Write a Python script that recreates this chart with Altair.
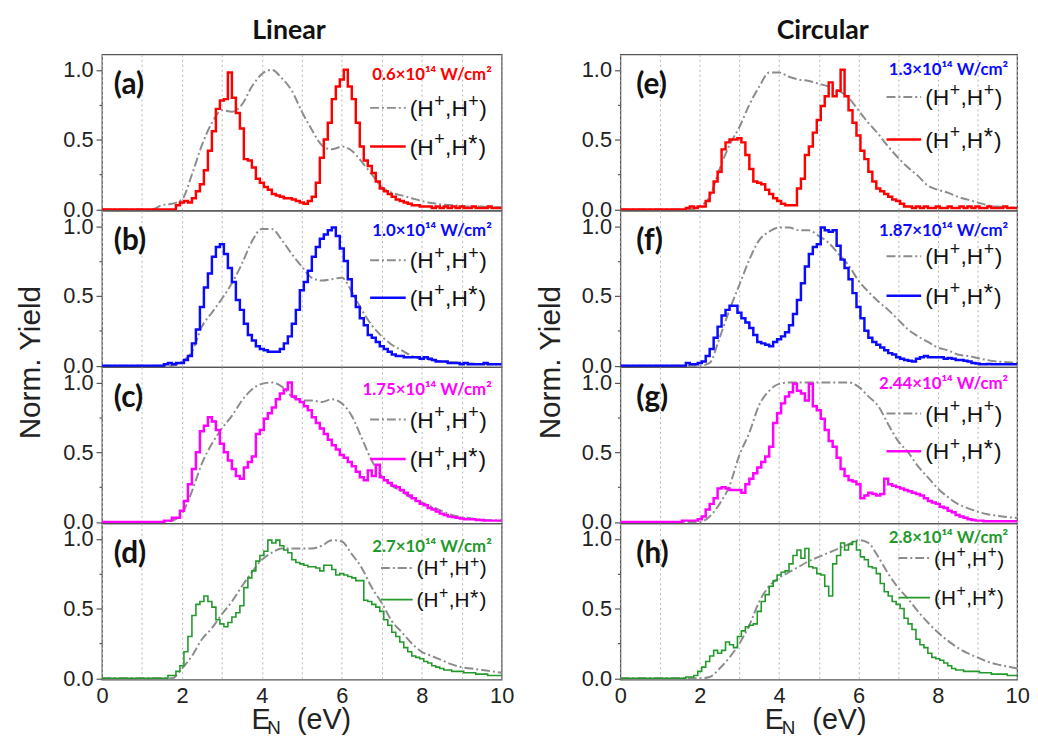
import altair as alt
import pandas as pd

# ---------------- data ----------------
STEP_E = [round(0.1 * i, 1) for i in range(101)]      # histogram bins, eV
SMOOTH_E = [round(0.25 * i, 2) for i in range(41)]   # (H+,H+) sampling, eV

# (H+,H*) step spectra, one row = 1 eV
STEP_A = [0, 0, 0, 0, 0, 0, 0, 0, 0, 0,
          0, 0, 0, 0, 0, 0, 0, 0, 0, 0.03,
          0.05, 0.06, 0.05, 0.08, 0.13, 0.18, 0.28, 0.42, 0.56, 0.72,
          0.78, 0.79, 0.98, 0.80, 0.69, 0.58, 0.36, 0.35, 0.30, 0.22,
          0.19, 0.16, 0.14, 0.11, 0.10, 0.09, 0.08, 0.08, 0.07, 0.06,
          0.05, 0.04, 0.06, 0.09, 0.19, 0.37, 0.50, 0.62, 0.79, 0.88,
          0.93, 1.00, 0.88, 0.79, 0.62, 0.45, 0.35, 0.31, 0.26, 0.20,
          0.15, 0.13, 0.11, 0.09, 0.07, 0.06, 0.05, 0.04, 0.03, 0.03,
          0.02, 0.02, 0.02, 0.01, 0.02, 0.01, 0.02, 0.01, 0.02, 0.01,
          0.02, 0.01, 0.01, 0.02, 0.01, 0.01, 0.01, 0.02, 0.01, 0.01,
          0.01]
STEP_B = [0, 0, 0, 0, 0, 0, 0, 0, 0, 0,
          0, 0, 0, 0, 0, 0, 0.01, 0.02, 0.01, 0.02,
          0.02, 0.04, 0.07, 0.16, 0.26, 0.42, 0.56, 0.66, 0.78, 0.85,
          0.87, 0.80, 0.70, 0.60, 0.47, 0.40, 0.30, 0.22, 0.18, 0.14,
          0.12, 0.11, 0.10, 0.10, 0.10, 0.12, 0.16, 0.21, 0.30, 0.40,
          0.54, 0.60, 0.68, 0.78, 0.85, 0.91, 0.94, 0.97, 0.99, 0.93,
          0.84, 0.75, 0.62, 0.50, 0.42, 0.34, 0.29, 0.22, 0.20, 0.17,
          0.14, 0.12, 0.10, 0.08, 0.07, 0.07, 0.06, 0.06, 0.06, 0.06,
          0.05, 0.06, 0.05, 0.04, 0.03, 0.03, 0.03, 0.02, 0.02, 0.02,
          0.01, 0.02, 0.01, 0.01, 0.01, 0.01, 0.02, 0.01, 0.01, 0.01,
          0.01]
STEP_C = [0, 0, 0, 0, 0, 0, 0, 0, 0, 0,
          0, 0, 0, 0, 0, 0, 0.01, 0.01, 0.03, 0.03,
          0.08, 0.15, 0.27, 0.38, 0.50, 0.65, 0.69, 0.75, 0.72, 0.66,
          0.56, 0.50, 0.44, 0.38, 0.33, 0.31, 0.39, 0.43, 0.47, 0.63,
          0.66, 0.74, 0.78, 0.82, 0.88, 0.92, 0.95, 1.00, 0.90, 0.88,
          0.86, 0.83, 0.80, 0.75, 0.71, 0.67, 0.63, 0.59, 0.55, 0.52,
          0.48, 0.46, 0.43, 0.40, 0.36, 0.32, 0.30, 0.37, 0.33, 0.41,
          0.32, 0.30, 0.28, 0.26, 0.25, 0.23, 0.21, 0.19, 0.17, 0.15,
          0.13, 0.12, 0.10, 0.09, 0.075, 0.06, 0.05, 0.04, 0.035, 0.03,
          0.025, 0.02, 0.02, 0.02, 0.015, 0.015, 0.01, 0.01, 0.01, 0.01,
          0.01]
STEP_D = [0, 0, 0, 0, 0, 0, 0, 0, 0, 0,
          0, 0, 0, 0, 0, 0, 0, 0.02, 0.02, 0.05,
          0.09, 0.19, 0.30, 0.45, 0.53, 0.55, 0.59, 0.55, 0.51, 0.42,
          0.39, 0.37, 0.40, 0.44, 0.47, 0.52, 0.65, 0.72, 0.77, 0.84,
          0.88, 0.91, 0.99, 0.97, 0.99, 0.95, 0.92, 0.90, 0.85, 0.83,
          0.82, 0.81, 0.80, 0.80, 0.79, 0.77, 0.81, 0.81, 0.78, 0.74,
          0.75, 0.74, 0.73, 0.72, 0.70, 0.70, 0.56, 0.55, 0.53, 0.51,
          0.48, 0.42, 0.38, 0.33, 0.30, 0.26, 0.22, 0.19, 0.16, 0.15,
          0.14, 0.12, 0.11, 0.09, 0.08, 0.07, 0.06, 0.06, 0.05, 0.05,
          0.05, 0.04, 0.04, 0.04, 0.03, 0.03, 0.03, 0.02, 0.02, 0.02,
          0.02]
STEP_E_ = [0, 0, 0, 0, 0, 0, 0, 0, 0, 0,
           0, 0, 0, 0, 0, 0, 0, 0.01, 0.02, 0.01,
           0.02, 0.02, 0.06, 0.12, 0.20, 0.27, 0.43, 0.48, 0.50, 0.50,
           0.51, 0.48, 0.39, 0.29, 0.20, 0.19, 0.18, 0.14, 0.11, 0.08,
           0.06, 0.04, 0.03, 0.03, 0.03, 0.15, 0.22, 0.39, 0.45, 0.55,
           0.64, 0.74, 0.81, 0.91, 0.81, 0.85, 1.00, 0.81, 0.71, 0.62,
           0.53, 0.42, 0.36, 0.27, 0.20, 0.15, 0.13, 0.11, 0.09, 0.07,
           0.06, 0.04, 0.02, 0.02, 0.01, 0.02, 0.01, 0.02, 0.01, 0.01,
           0.02, 0.01, 0.01, 0.02, 0.01, 0.01, 0.02, 0.01, 0.02, 0.01,
           0.02, 0.01, 0.01, 0.02, 0.01, 0.01, 0.01, 0.02, 0.01, 0.01,
           0.01]
STEP_F = [0, 0, 0, 0, 0, 0, 0, 0, 0, 0,
          0, 0, 0, 0, 0, 0, 0, 0.02, 0.01, 0.01,
          0.02, 0.03, 0.07, 0.12, 0.20, 0.28, 0.36, 0.40, 0.43, 0.43,
          0.38, 0.34, 0.31, 0.27, 0.22, 0.17, 0.16, 0.15, 0.14, 0.17,
          0.19, 0.21, 0.24, 0.29, 0.37, 0.47, 0.59, 0.71, 0.80, 0.85,
          0.87, 0.99, 0.97, 0.96, 0.97, 0.86, 0.76, 0.70, 0.62, 0.52,
          0.42, 0.34, 0.25, 0.20, 0.17, 0.15, 0.13, 0.11, 0.09, 0.08,
          0.06, 0.05, 0.04, 0.035, 0.03, 0.05, 0.06, 0.07, 0.06, 0.06,
          0.06, 0.06, 0.05, 0.055, 0.05, 0.04, 0.04, 0.035, 0.03, 0.02,
          0.015, 0.01, 0.01, 0.012, 0.01, 0.01, 0.01, 0.01, 0.01, 0.01,
          0.01]
STEP_G = [0, 0, 0, 0, 0, 0, 0, 0, 0, 0,
          0, 0, 0, 0, 0, 0, 0.01, 0.01, 0.01, 0.01,
          0.02, 0.04, 0.09, 0.13, 0.17, 0.24, 0.25, 0.24, 0.23, 0.23,
          0.23, 0.21, 0.27, 0.31, 0.35, 0.39, 0.43, 0.47, 0.54, 0.71,
          0.78, 0.85, 0.90, 0.93, 0.99, 0.94, 0.92, 0.87, 0.99, 0.83,
          0.80, 0.74, 0.66, 0.58, 0.54, 0.46, 0.38, 0.33, 0.30, 0.29,
          0.27, 0.17, 0.19, 0.21, 0.20, 0.19, 0.20, 0.31, 0.27, 0.26,
          0.25, 0.24, 0.23, 0.22, 0.21, 0.20, 0.19, 0.17, 0.15, 0.14,
          0.13, 0.11, 0.10, 0.08, 0.07, 0.05, 0.04, 0.03, 0.02, 0.015,
          0.01, 0.01, 0.005, 0.005, 0.005, 0.005, 0.005, 0.005, 0.005, 0.005,
          0.005]
STEP_H = [0, 0, 0, 0, 0, 0, 0, 0, 0, 0,
          0, 0, 0, 0, 0, 0, 0, 0.01, 0.01, 0.02,
          0.05, 0.08, 0.12, 0.16, 0.20, 0.18, 0.20, 0.26, 0.24, 0.22,
          0.30, 0.34, 0.37, 0.38, 0.39, 0.48, 0.55, 0.60, 0.66, 0.70,
          0.74, 0.76, 0.77, 0.82, 0.88, 0.92, 0.86, 0.93, 0.80, 0.79,
          0.75, 0.74, 0.66, 0.59, 0.82, 0.88, 0.97, 0.92, 0.96, 0.98,
          0.92, 0.87, 0.85, 0.80, 0.79, 0.75, 0.68, 0.62, 0.59, 0.55,
          0.53, 0.50, 0.43, 0.39, 0.35, 0.28, 0.24, 0.22, 0.18, 0.15,
          0.14, 0.13, 0.11, 0.09, 0.07, 0.06, 0.06, 0.05, 0.05, 0.05,
          0.05, 0.04, 0.04, 0.04, 0.03, 0.03, 0.03, 0.03, 0.02, 0.02,
          0.02]

# (H+,H+) smooth spectra, one row = 1 eV (0.25 eV steps)
PP_A = [0, 0, 0, 0,  0, 0, 0.03, 0.04,  0.07, 0.25, 0.46, 0.62,
        0.71, 0.70, 0.75, 0.88,  0.97, 1.00, 0.94, 0.85,  0.70, 0.57, 0.46, 0.43,
        0.45, 0.42, 0.34, 0.25,  0.16, 0.12, 0.10, 0.08,  0.06, 0.045, 0.035, 0.03,
        0.025, 0.02, 0.02, 0.015,  0.015]
PP_B = [0, 0, 0, 0,  0, 0, 0, 0,  0.03, 0.10, 0.28, 0.38,
        0.48, 0.59, 0.73, 0.89,  0.98, 0.98, 0.90, 0.80,  0.71, 0.63, 0.61, 0.62,
        0.63, 0.53, 0.40, 0.29,  0.21, 0.15, 0.11, 0.07,  0.05, 0.04, 0.03, 0.025,
        0.02, 0.015, 0.012, 0.01,  0.01]
PP_C = [0, 0, 0, 0,  0, 0, 0, 0.01,  0.06, 0.22, 0.42, 0.56,
        0.67, 0.76, 0.87, 0.95,  0.99, 1.00, 0.97, 0.90,  0.87, 0.87, 0.86, 0.88,
        0.85, 0.76, 0.60, 0.44,  0.33, 0.26, 0.22, 0.17,  0.14, 0.11, 0.08, 0.05,
        0.035, 0.025, 0.018, 0.013,  0.01]
PP_D = [0, 0, 0, 0,  0, 0, 0, 0,  0.07, 0.16, 0.28, 0.36,
        0.46, 0.55, 0.66, 0.76,  0.85, 0.90, 0.93, 0.93,  0.93, 0.93, 0.95, 0.99,
        0.98, 0.89, 0.79, 0.65,  0.54, 0.41, 0.33, 0.25,  0.19, 0.16, 0.13, 0.10,
        0.08, 0.07, 0.06, 0.05,  0.04]
PP_E = [0, 0, 0, 0,  0, 0, 0, 0,  0.02, 0.09, 0.29, 0.46,
        0.59, 0.75, 0.88, 0.98,  0.98, 0.95, 0.93, 0.92,  0.90, 0.88, 0.85, 0.80,
        0.71, 0.62, 0.54, 0.45,  0.37, 0.30, 0.24, 0.17,  0.14, 0.12, 0.09, 0.07,
        0.05, 0.03, 0.02, 0.015,  0.01]
PP_F = [0, 0, 0, 0,  0, 0, 0, 0,  0.0, 0.02, 0.20, 0.40,
        0.58, 0.76, 0.90, 0.96,  0.99, 0.99, 0.97, 0.97,  0.93, 0.88, 0.80, 0.72,
        0.61, 0.53, 0.46, 0.40,  0.33, 0.26, 0.21, 0.17,  0.13, 0.11, 0.08, 0.07,
        0.055, 0.04, 0.03, 0.025,  0.02]
PP_G = [0, 0, 0, 0,  0, 0, 0, 0,  0.0, 0.04, 0.13, 0.26,
        0.48, 0.64, 0.84, 0.94,  0.99, 1.00, 1.00, 1.00,  1.00, 1.00, 1.00, 1.00,
        0.97, 0.90, 0.83, 0.70,  0.58, 0.50, 0.40, 0.32,  0.24, 0.18, 0.13, 0.10,
        0.075, 0.055, 0.045, 0.035,  0.03]
PP_H = [0, 0, 0, 0,  0, 0, 0, 0,  0.0, 0.01, 0.07, 0.15,
        0.25, 0.38, 0.55, 0.66,  0.72, 0.76, 0.80, 0.84,  0.87, 0.90, 0.93, 0.96,
        0.99, 0.97, 0.87, 0.75,  0.65, 0.57, 0.48, 0.40,  0.33, 0.27, 0.22, 0.18,
        0.15, 0.12, 0.10, 0.085,  0.07]

STEPS = [STEP_A, STEP_B, STEP_C, STEP_D, STEP_E_, STEP_F, STEP_G, STEP_H]
SMOOTHS = [PP_A, PP_B, PP_C, PP_D, PP_E, PP_F, PP_G, PP_H]
LETTERS = ["(a)", "(b)", "(c)", "(d)", "(e)", "(f)", "(g)", "(h)"]
INTENSITIES = ["0.6×10¹⁴ W/cm²", "1.0×10¹⁴ W/cm²", "1.75×10¹⁴ W/cm²", "2.7×10¹⁴ W/cm²",
               "1.3×10¹⁴ W/cm²", "1.87×10¹⁴ W/cm²", "2.44×10¹⁴ W/cm²", "2.8×10¹⁴ W/cm²"]
COLUMN_TITLES = ["Linear", "Circular"]

# ---------------- styling ----------------
RED, BLUE, MAG, GREEN, GRAY = "#ff0000", "#0a0aff", "#ff00ff", "#22992a", "#8c8c8c"
CURVE_COLORS = [RED, BLUE, MAG, GREEN, RED, BLUE, MAG, GREEN]
LABEL_COLORS = [RED, BLUE, MAG, GREEN, BLUE, BLUE, MAG, GREEN]
LINE_W = [2.5, 2.5, 2.5, 1.6, 2.5, 2.5, 2.5, 1.6]
FONT = "Liberation Sans"
BOLD_FONT = "Lato"
H = 158
WIDTHS = [404, 401]
LABEL_Y = [21, 21, 23, 24, 16, 21, 17, 15]
ROW1_Y = [54, 50, 53, 45, 43, 46, 47, 35]
ROW2_Y = [93, 88, 93, 77, 86, 86, 85, 75]
SAMPLE_X = [(271, 307), (271, 307), (271, 307), (282, 314),
            (269, 304), (269, 304), (269, 304), (281, 313)]
LEG_FONT = [23, 23, 23, 21, 23, 23, 23, 21]
LABEL_RIGHT = [394, 392]
LETTER_X = [12, 16]
XTITLE_X = [(151, 167, 197), (146, 163, 194)]
TITLE_PAD = [18, 16]

ONE = alt.Data(values=[{}])


def txt(text, x, y, size, color="#111", weight="normal", align="left",
        baseline="middle", font=FONT):
    return alt.Chart(ONE).mark_text(
        text=text, align=align, baseline=baseline, fontSize=size,
        fontWeight=weight, color=color, font=font
    ).encode(x=alt.value(x), y=alt.value(y))


def sample(x0, x1, y, color, width, dash=None):
    kw = dict(color=color, strokeWidth=width)
    if dash:
        kw["strokeDash"] = dash
    return alt.Chart(ONE).mark_rule(**kw).encode(
        x=alt.value(x0), x2=alt.value(x1), y=alt.value(y))


def legend_text(x0, y, star, F):
    """'(H+,H+)' / '(H+,H*)' built from pieces so the superscripts are raised."""
    S = round(F * 0.78)
    base = y + 0.36 * F
    sup = base - 0.42 * F
    out = []
    p = x0
    out.append(txt("(H", p, base, F, baseline="alphabetic"))
    p += 1.055 * F + 0.5
    out.append(txt("+", p, sup, S, baseline="alphabetic"))
    p += 0.584 * S + 0.5
    out.append(txt(",H", p, base, F, baseline="alphabetic"))
    p += 1.0 * F + 0.5
    if star:
        out.append(txt("*", p, base - 0.12 * F, F + 1, baseline="alphabetic"))
        p += 0.389 * (F + 1) + 1
    else:
        out.append(txt("+", p, sup, S, baseline="alphabetic"))
        p += 0.584 * S + 0.5
    out.append(txt(")", p, base, F, baseline="alphabetic"))
    return out


def panel(i):
    col = i // 4
    row = i % 4
    bottom = row == 3
    w = WIDTHS[col]

    xaxis_kw = dict(values=list(range(11)), grid=True, gridDash=[2, 3],
                    gridColor="#b5b5b5", gridWidth=1, ticks=False, domain=False,
                    title=None, labelFlush=False)
    if bottom:
        xaxis_kw.update(labels=True, labelExpr="datum.value % 2 == 0 ? datum.label : ''",
                        labelFont=FONT, labelFontSize=22, labelColor="#222",
                        labelPadding=6)
    else:
        xaxis_kw.update(labels=False)

    yaxis_kw = dict(
        values=[0, 0.25, 0.5, 0.75, 1.0],
        labelExpr="(datum.value == 0 || datum.value == 0.5 || datum.value == 1) ? format(datum.value, '.1f') : ''",
        tickSize={"condition": {"test": "datum.value == 0.25 || datum.value == 0.75", "value": 3},
                  "value": 6},
        tickColor="#555", tickWidth=1.2, domain=False, grid=False,
        labelFont=FONT, labelFontSize=22, labelColor="#222", labelPadding=3,
        labelFlush=False, labelOverlap=False,
        title="Norm. Yield", titleFont=FONT, titleFontSize=30,
        titleFontWeight="normal", titleColor="#222",
        titlePadding=TITLE_PAD[col],
        titleOpacity=1 if row == 1 else 0,
    )
    if row == 1:
        yaxis_kw["titleY"] = H - 5

    x = alt.X("E:Q", scale=alt.Scale(domain=[0, 10], nice=False), axis=alt.Axis(**xaxis_kw))
    y = alt.Y("Y:Q", scale=alt.Scale(domain=[-0.01, 1.11], nice=False, zero=False),
              axis=alt.Axis(**yaxis_kw))

    df_s = pd.DataFrame({"E": STEP_E, "Y": STEPS[i]})
    df_g = pd.DataFrame({"E": SMOOTH_E, "Y": SMOOTHS[i]})

    gray = alt.Chart(df_g).mark_line(interpolate="monotone", color=GRAY,
                                     strokeDash=[9, 3, 2, 3], strokeWidth=2,
                                     clip=True).encode(x=x, y=y)
    step = alt.Chart(df_s).mark_line(interpolate="step", color=CURVE_COLORS[i],
                                     strokeWidth=LINE_W[i], clip=True).encode(x=x, y=y)

    layers = [gray, step]
    layers.append(txt(LETTERS[i], LETTER_X[col], 31, 30, weight="bold", font=BOLD_FONT))
    layers.append(txt(INTENSITIES[i], LABEL_RIGHT[col], LABEL_Y[i], 17,
                      color=LABEL_COLORS[i], weight="bold", align="right", font=BOLD_FONT))
    sx0, sx1 = SAMPLE_X[i]
    layers.append(sample(sx0, sx1, ROW1_Y[i], GRAY, 2, [9, 3, 2, 3]))
    layers.append(sample(sx0, sx1, ROW2_Y[i], CURVE_COLORS[i], LINE_W[i]))
    layers += legend_text(sx1 + 4, ROW1_Y[i], False, LEG_FONT[i])
    layers += legend_text(sx1 + 4, ROW2_Y[i], True, LEG_FONT[i])

    if row == 0:
        layers.append(txt(COLUMN_TITLES[col], w / 2 - (13 if col == 0 else -4), -24, 27,
                          weight="bold", align="center", font=BOLD_FONT))
    if bottom:
        ex, nx, px = XTITLE_X[col]
        layers.append(txt("E", ex, H + 50, 29, baseline="alphabetic", color="#222"))
        layers.append(txt("N", nx, H + 55, 19, baseline="alphabetic", color="#222"))
        layers.append(txt("(eV)", px, H + 50, 29, baseline="alphabetic", color="#222"))

    return alt.layer(*layers).properties(width=w, height=H)


left = alt.vconcat(*[panel(i) for i in range(4)], spacing=0, bounds="flush")
right = alt.vconcat(*[panel(i) for i in range(4, 8)], spacing=0, bounds="flush")

chart = alt.hconcat(left, right, spacing=20).properties(
    padding={"left": 6, "top": 4, "right": 0, "bottom": 0},
    background="white",
).configure_view(stroke="#555", strokeWidth=1.3)

chart.save("out.html", embed_options={"renderer": "svg", "actions": False})
